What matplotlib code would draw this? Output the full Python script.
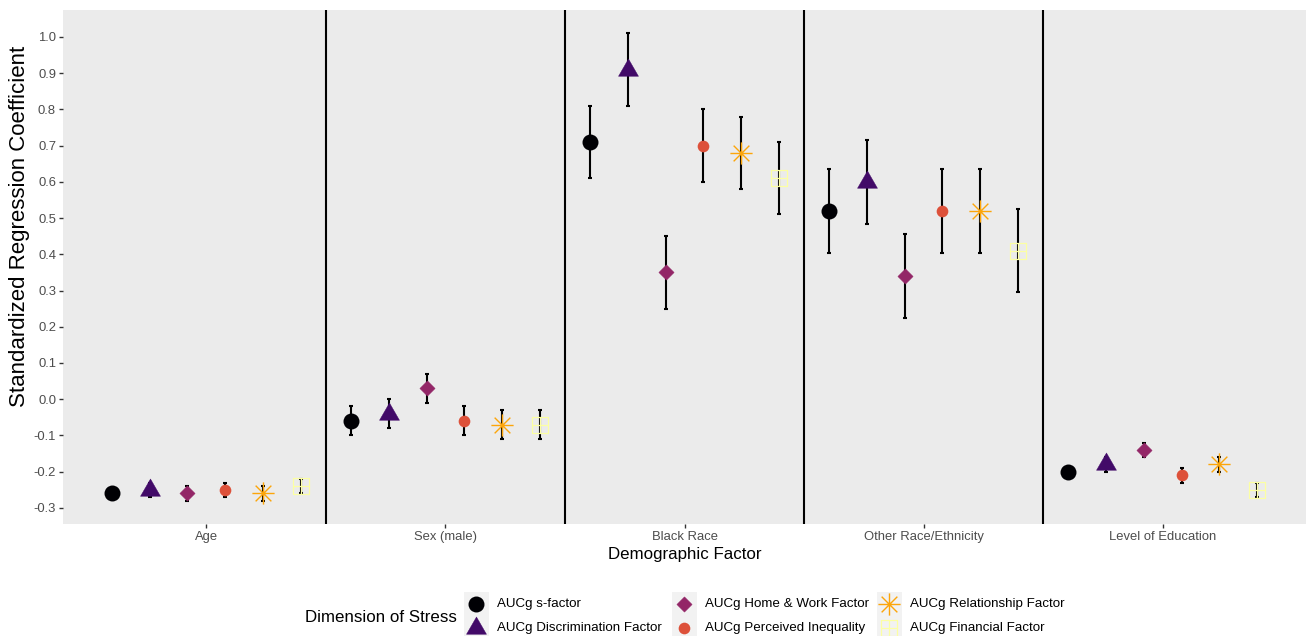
import numpy as np
import matplotlib
matplotlib.use("Agg")
import matplotlib.pyplot as plt
from matplotlib.path import Path
from matplotlib.patches import Rectangle

plt.rcParams["font.family"] = ["Liberation Sans", "DejaVu Sans"]

# ---- data -------------------------------------------------------------
factors = ["Age", "Sex (male)", "Black Race", "Other Race/Ethnicity", "Level of Education"]
dimensions = ["AUCg s-factor", "AUCg Discrimination Factor", "AUCg Home & Work Factor",
              "AUCg Perceived Inequality", "AUCg Relationship Factor", "AUCg Financial Factor"]

s_factor = [-0.26, -0.06, 0.71, 0.52, -0.20]
s_factor_ci = [0.01, 0.04, 0.10, 0.115, 0.01]
discrimination = [-0.25, -0.04, 0.91, 0.60, -0.18]
discrimination_ci = [0.02, 0.04, 0.10, 0.115, 0.02]
home_work = [-0.26, 0.03, 0.35, 0.34, -0.14]
home_work_ci = [0.02, 0.04, 0.10, 0.115, 0.02]
perceived_inequality = [-0.25, -0.06, 0.70, 0.52, -0.21]
perceived_inequality_ci = [0.02, 0.04, 0.10, 0.115, 0.02]
relationship = [-0.26, -0.07, 0.68, 0.52, -0.18]
relationship_ci = [0.02, 0.04, 0.10, 0.115, 0.02]
financial = [-0.24, -0.07, 0.61, 0.41, -0.25]
financial_ci = [0.02, 0.04, 0.10, 0.115, 0.02]

y_ticks = [1.0, 0.9, 0.8, 0.7, 0.6, 0.5, 0.4, 0.3, 0.2, 0.1, 0.0, -0.1, -0.2, -0.3]

values = [s_factor, discrimination, home_work, perceived_inequality, relationship, financial]
cis = [s_factor_ci, discrimination_ci, home_work_ci, perceived_inequality_ci,
       relationship_ci, financial_ci]

# ---- marker shapes ------------------------------------------------------
h = np.sqrt(3) / 2
triangle = Path([(0, 2 * h / 3), (-0.5, -h / 3), (0.5, -h / 3), (0, 2 * h / 3)],
                [Path.MOVETO, Path.LINETO, Path.LINETO, Path.CLOSEPOLY])
diamond = Path([(0, 1), (1, 0), (0, -1), (-1, 0), (0, 1)],
               [Path.MOVETO, Path.LINETO, Path.LINETO, Path.LINETO, Path.CLOSEPOLY])
d = np.sqrt(0.5)
asterisk = Path([(-1, 0), (1, 0), (0, -1), (0, 1), (-d, -d), (d, d), (-d, d), (d, -d)],
                [Path.MOVETO, Path.LINETO] * 4)
square_plus = Path([(-1, -1), (1, -1), (1, 1), (-1, 1), (-1, -1),
                    (0, -1), (0, 1), (-1, 0), (1, 0)],
                   [Path.MOVETO, Path.LINETO, Path.LINETO, Path.LINETO, Path.LINETO,
                    Path.MOVETO, Path.LINETO, Path.MOVETO, Path.LINETO])

colors = ["#000004", "#420A68", "#932667", "#DD513A", "#FCA50A", "#FCFFA4"]
styles = [
    dict(marker="o", ms=11.5, mfc=colors[0], mec=colors[0], mew=0),
    dict(marker=triangle, ms=16.6, mfc=colors[1], mec=colors[1], mew=0.3),
    dict(marker=diamond, ms=11.0, mfc=colors[2], mec=colors[2], mew=0.3),
    dict(marker="o", ms=8.4, mfc=colors[3], mec=colors[3], mew=0),
    dict(marker=asterisk, ms=16.0, mfc="none", mec=colors[4], mew=1.0),
    dict(marker=square_plus, ms=12.0, mfc="none", mec=colors[5], mew=0.9),
]

# ---- figure -------------------------------------------------------------
W, H = 1306, 636
fig = plt.figure(figsize=(W / 100, H / 100), dpi=100)
ax = fig.add_axes([63 / W, 1 - 524 / H, (1306 - 63) / W, (524 - 10) / H])
ax.set_facecolor("#EBEBEB")
for s in ax.spines.values():
    s.set_visible(False)

x = np.arange(1, len(factors) + 1)
step = 0.95 / 6
offsets = (np.arange(len(dimensions)) - 2.5) * step

lows, highs = [], []
for k in range(len(dimensions)):
    v = np.array(values[k])
    e = np.array(cis[k])
    lows.append((v - e).min())
    highs.append((v + e).max())
    ax.errorbar(x + offsets[k], v, yerr=e, fmt="none", ecolor="black",
                elinewidth=1.5, capsize=1.5, capthick=1.5, zorder=2)
    ax.plot(x + offsets[k], v, linestyle="none", zorder=3, **styles[k])

lo, hi = min(lows), max(highs)
pad = (hi - lo) * 0.05
ax.set_ylim(lo - pad, hi + pad)
ax.set_xlim(0.4, len(factors) + 0.6)

for sep in x[:-1] + 0.5:
    ax.axvline(sep, color="black", lw=1.5, zorder=4)

ax.set_xticks(x)
ax.set_xticklabels(factors)
ax.set_yticks(y_ticks)
ax.set_yticklabels([f"{t:.1f}" for t in y_ticks])
ax.tick_params(axis="both", length=3, width=1, color="#333333",
               labelcolor="#4D4D4D", labelsize=9.4, pad=2)

ax.set_xlabel("Demographic Factor", fontsize=12.2, color="black", labelpad=3)
ax.set_ylabel("Standardized Regression Coefficient", fontsize=16, color="black")
ax.yaxis.set_label_coords(-0.0265, 0.58)

# ---- legend (drawn in pixel space below the panel) ---------------------
lg = fig.add_axes([0, 0, 1, 1], zorder=5)
lg.set_xlim(0, W)
lg.set_ylim(H, 0)
lg.axis("off")
lg.patch.set_alpha(0)

lg.text(305, 617, "Dimension of Stress", fontsize=12.2, va="center", ha="left")
key_cols = [476, 684, 889]
key_rows = [604, 628]
for k, name in enumerate(dimensions):
    cx = key_cols[k // 2]
    cy = key_rows[k % 2]
    lg.add_patch(Rectangle((cx - 12.5, cy - 12), 25, 24, facecolor="#F2F2F2",
                           edgecolor="none"))
    lg.plot([cx], [cy], linestyle="none", **styles[k])
    lg.text(cx + 21, cy, name, fontsize=9.6, va="center", ha="left")

fig.savefig("out.png", dpi=100)
